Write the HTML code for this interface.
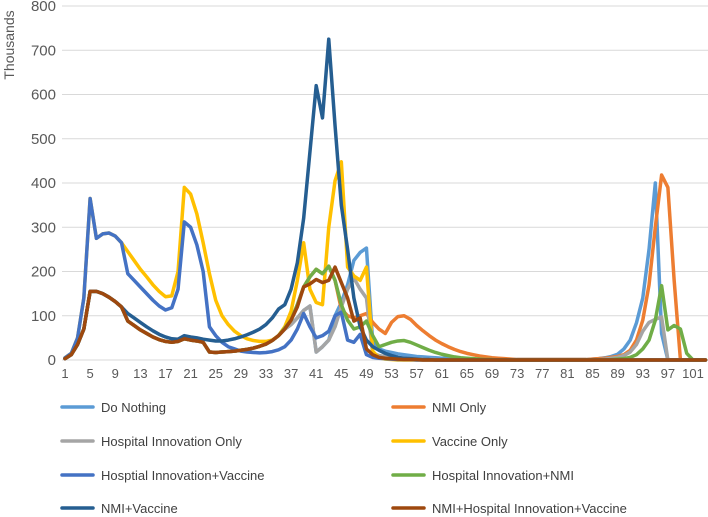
<!DOCTYPE html>
<html><head><meta charset="utf-8"><style>
body{margin:0;background:#fff;}
svg{display:block;font-family:"Liberation Sans",sans-serif;}
</style></head><body>
<svg id="chart" width="708" height="517" viewBox="0 0 708 517">
<g id="grid"></g>
<g id="yax"></g>
<g id="xax"></g>
<text x="14" y="45" transform="rotate(-90 14 45)" text-anchor="middle" font-size="14" fill="#595959">Thousands</text>
<g id="series"></g>
<g id="legend"></g>
</svg>
<script>
const yTicks=[0,100,200,300,400,500,600,700,800];
const xTickLabels=[1,5,9,13,17,21,25,29,33,37,41,45,49,53,57,61,65,69,73,77,81,85,89,93,97,101];
const seriesNames=["Do Nothing","NMI Only","Hospital Innovation Only","Vaccine Only","Hosptial Innovation+Vaccine","Hospital Innovation+NMI","NMI+Vaccine","NMI+Hospital Innovation+Vaccine"];
const seriesColors=["#5B9BD5","#ED7D31","#A5A5A5","#FFC000","#4472C4","#70AD47","#255E91","#9E480E"];
const doNothing=[3,12,35,70,155,155,150,142,132,120,88,78,68,60,52,46,42,40,42,48,45,43,40,18,17,18,19,20,22,24,27,31,36,44,55,70,80,95,112,122,18,30,45,100,130,170,225,243,253,40,25,20,17,14,12,10,8,7,6,5,4,4,3,3,2,2,1,1,1,1,1,1,1,1,1,1,1,1,1,1,1,1,1,1,2,3,5,8,13,25,45,84,140,250,400,60,0,0,0,0,0,0,0];
const nmiOnly=[3,12,35,70,155,155,150,142,132,120,88,78,68,60,52,46,42,40,42,48,45,43,40,18,17,18,19,20,22,24,27,31,36,44,55,72,90,125,165,188,205,195,212,180,115,100,95,100,105,85,70,60,85,98,100,92,78,66,55,45,37,30,24,19,15,12,9,7,5,4,3,2,1,1,1,1,1,1,1,1,1,1,1,1,2,3,4,6,8,12,22,45,90,170,300,418,390,180,0,0,0,0,0];
const hospOnly=[3,12,35,70,155,155,150,142,132,120,88,78,68,60,52,46,42,40,42,48,45,43,40,18,17,18,19,20,22,24,27,31,36,44,55,70,80,95,112,122,18,30,45,75,120,160,185,160,140,15,10,8,6,5,4,3,2,2,1,1,0,0,0,0,0,0,0,0,0,0,0,0,0,0,0,0,0,0,0,0,0,0,0,0,0,1,2,4,6,10,18,35,65,85,92,97,0,0,0,0,0,0,0];
const vaccineOnly=[5,15,50,140,365,275,285,287,280,265,245,225,205,188,170,155,143,145,200,390,375,330,265,195,135,100,80,65,55,48,44,42,42,45,55,75,110,180,265,160,130,125,300,405,448,210,190,180,210,20,5,2,1,0,0,0,0,0,0,0,0,0,0,0,0,0,0,0,0,0,0,0,0,0,0,0,0,0,0,0,0,0,0,0,0,0,0,0,0,0,0,0,0,0,0,0,0,0,0,0,0,0,0];
const hospVaccine=[5,15,50,140,365,275,285,287,280,265,195,180,165,150,135,122,113,118,160,312,300,260,200,75,55,40,30,25,20,18,17,16,17,19,23,30,45,70,105,75,50,55,65,100,108,45,40,58,12,6,4,3,2,1,1,1,0,0,0,0,0,0,0,0,0,0,0,0,0,0,0,0,0,0,0,0,0,0,0,0,0,0,0,0,0,0,0,0,0,0,0,0,0,0,0,0,0,0,0,0,0,0,0];
const hospNmi=[3,12,35,70,155,155,150,142,132,120,88,78,68,60,52,46,42,40,42,48,45,43,40,18,17,18,19,20,22,24,27,31,36,44,55,72,90,125,165,188,205,195,212,180,125,90,70,75,88,55,30,35,40,43,44,40,34,28,22,17,13,10,7,5,4,3,2,1,1,0,0,0,0,0,0,0,0,0,0,0,0,0,0,0,0,0,0,1,2,3,6,12,25,45,90,168,68,78,70,15,0,0,0];
const nmiVaccine=[3,12,35,70,155,155,150,142,132,120,105,95,85,75,66,58,52,48,47,55,52,50,47,45,43,43,45,48,52,57,63,70,80,95,115,125,160,220,320,470,620,547,725,530,350,250,140,75,45,30,22,15,10,6,4,3,2,1,1,0,0,0,0,0,0,0,0,0,0,0,0,0,0,0,0,0,0,0,0,0,0,0,0,0,0,0,0,0,0,0,0,0,0,0,0,0,0,0,0,0,0,0,0];
const allThree=[3,12,35,70,155,155,150,142,132,120,88,78,68,60,52,46,42,40,42,48,45,43,40,18,17,18,19,20,22,24,27,31,36,44,55,70,90,120,165,172,182,175,180,210,175,140,88,95,25,12,6,4,3,2,1,1,1,0,0,0,0,0,0,0,0,0,0,0,0,0,0,0,0,0,0,0,0,0,0,0,0,0,0,0,0,0,0,0,0,0,0,0,0,0,0,0,0,0,0,0,0,0,0];
const allSeries=[doNothing,nmiOnly,hospOnly,vaccineOnly,hospVaccine,hospNmi,nmiVaccine,allThree];
const slugs=["do-nothing","nmi-only","hospital-innovation-only","vaccine-only","hospital-innovation-vaccine","hospital-innovation-nmi","nmi-vaccine","nmi-hospital-innovation-vaccine"];

const NS="http://www.w3.org/2000/svg";
function xPix(i){return 65+(i-1)*6.28;}
function yPix(v){return 360-v*0.4425;}
function mk(tag,attrs,parent){const e=document.createElementNS(NS,tag);for(const k in attrs)e.setAttribute(k,attrs[k]);parent.appendChild(e);return e;}

const grid=document.getElementById('grid'),yax=document.getElementById('yax'),xax=document.getElementById('xax');
yTicks.forEach(t=>{
  const l=mk('line',{x1:62,x2:708,y1:yPix(t),y2:yPix(t),stroke:'#d9d9d9','stroke-width':1},grid);
  
  
  const tx=mk('text',{x:56,y:yPix(t)+5,'text-anchor':'end','font-size':15,fill:'#595959'},yax);
  tx.textContent=t;
  
  
});
xTickLabels.forEach(c=>{
  const tx=mk('text',{x:xPix(c),y:378,'text-anchor':'middle','font-size':13,fill:'#595959'},xax);
  tx.textContent=c;
  
  
});
const sg=document.getElementById('series');
allSeries.forEach((arr,si)=>{
  const d=arr.map((v,k)=>(k?'L':'M')+xPix(k+1).toFixed(2)+' '+yPix(v).toFixed(2)).join(' ');
  const p=mk('path',{d:d,fill:'none',stroke:seriesColors[si],'stroke-width':3.5,'stroke-linejoin':'round','stroke-linecap':'round'},sg);
  
  
});
const lg=document.getElementById('legend');
const rowsY=[407,441,475,508];
seriesNames.forEach((n,si)=>{
  const col=si%2,row=Math.floor(si/2);
  const lx=col?393:62,y=rowsY[row];
  const g=mk('g',{},lg);
  
  
  mk('line',{x1:lx,x2:lx+31,y1:y,y2:y,stroke:seriesColors[si],'stroke-width':3.5,'stroke-linecap':'round'},g);
  const t=mk('text',{x:lx+39,y:y+5,'font-size':13,fill:'#404040'},g);
  t.textContent=n;
});
</script>
</body></html>
